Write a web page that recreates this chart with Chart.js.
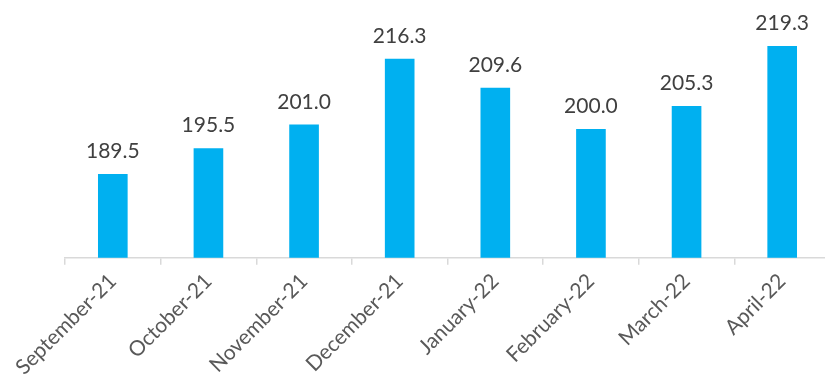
<!DOCTYPE html>
<html>
<head>
<meta charset="utf-8">
<script src="https://cdn.jsdelivr.net/npm/chart.js@4"></script>
<style>
  html, body { margin: 0; padding: 0; background: #fff; overflow: hidden; }
  #wrap { width: 845px; height: 390px; }
</style>
</head>
<body>
<div id="wrap"><canvas id="myChart"></canvas></div>
<script>
const months = ['September-21', 'October-21', 'November-21', 'December-21',
    'January-22', 'February-22', 'March-22', 'April-22']
const values = [189.5, 195.5, 201.0, 216.3, 209.6, 200.0, 205.3, 219.3]

// writes the value above every bar
const barValues = {
    id: 'barValues',
    afterDatasetsDraw(chart) {
        const ctx = chart.ctx
        const meta = chart.getDatasetMeta(0)
        ctx.save()
        ctx.font = '21px Lato'
        ctx.fillStyle = '#404040'
        ctx.textAlign = 'center'
        ctx.textBaseline = 'bottom'
        meta.data.forEach((bar, i) => {
            ctx.fillText(values[i].toFixed(1), bar.x, bar.y - 12)
        })
        ctx.restore()
    }
}

const ctx = document.getElementById('myChart');

new Chart(ctx, {
    type: 'bar',
    data: {
        labels: months,
        datasets: [{
            data: values,
            backgroundColor: '#00b0f0',
            barPercentage: 0.62,
            categoryPercentage: 0.5
        }]
    },
    options: {
        responsive: true,
        maintainAspectRatio: false,
        animation: false,
        layout: { padding: { left: 65, top: 0, right: 15, bottom: 6 } },
        plugins: {
            legend: { display: false },
            tooltip: { enabled: false }
        },
        scales: {
            y: {
                display: false,
                min: 170,
                max: 230
            },
            x: {
                border: { color: '#d9d9d9', width: 1.5 },
                grid: {
                    offset: true,
                    drawOnChartArea: false,
                    color: '#d9d9d9',
                    lineWidth: 1.5,
                    tickLength: 7
                },
                ticks: {
                    minRotation: 45,
                    maxRotation: 45,
                    color: '#595959',
                    font: { family: 'Lato', size: 21 },
                    padding: 4
                }
            }
        }
    },
    plugins: [barValues]
});
</script>
</body>
</html>
